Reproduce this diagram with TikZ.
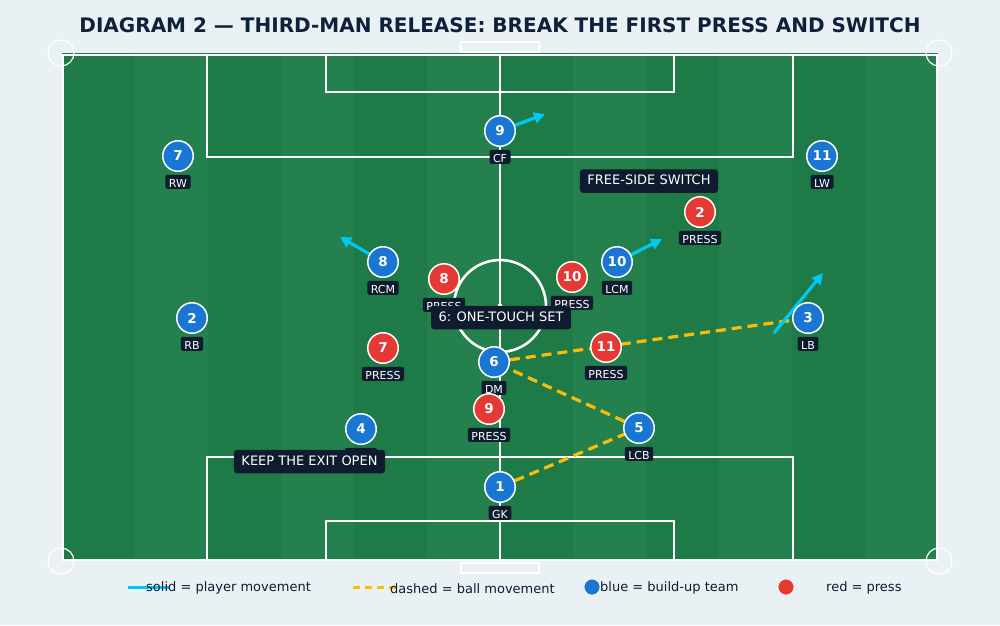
\documentclass[tikz,border=0pt]{standalone}
\usepackage{fontspec}
\setmainfont{DejaVu Sans}
\usetikzlibrary{arrows.meta}
\definecolor{bg}{RGB}{234,241,245}
\definecolor{navy}{RGB}{15,28,48}
\definecolor{titlec}{RGB}{15,32,58}
\definecolor{pblue}{RGB}{25,118,210}
\definecolor{pred}{RGB}{229,57,53}
\definecolor{cyanmv}{RGB}{0,200,240}
\definecolor{ballc}{RGB}{250,188,10}
\definecolor{gdark}{RGB}{30,122,70}
\definecolor{glight}{RGB}{36,128,76}
\tikzset{
  pline/.style={draw=white, line width=2.6pt},
  player/.style={circle, draw=white, line width=1.5pt, minimum size=30.5pt, inner sep=0pt,
    text=white, font=\fontsize{13.5}{14}\selectfont\bfseries},
  bluep/.style={player, fill=pblue},
  redp/.style={player, fill=pred},
  lbl/.style={fill=navy, rounded corners=2pt, text=white, font=\fontsize{11}{12}\selectfont,
    inner xsep=3.5pt, inner ysep=1.25pt, text height=11.5pt, text depth=0pt, anchor=south},
  callout/.style={fill=navy, rounded corners=3pt, text=white, font=\fontsize{13}{14}\selectfont,
    inner xsep=7.5pt, inner ysep=0pt, text height=9.5pt, text depth=2.5pt, minimum height=23.5pt},
  mv/.style={draw=cyanmv, line width=3.2pt, -{Triangle[length=11pt,width=11pt]}},
  ball/.style={draw=ballc, line width=3.2pt, dash pattern=on 10pt off 6pt},
  legtxt/.style={anchor=west, inner sep=0pt, text=navy, font=\fontsize{13}{14}\selectfont},
}
\begin{document}
\begin{tikzpicture}[x=1pt,y=-1pt]
\useasboundingbox (0,0) rectangle (1000,625);
\fill[bg] (0,0) rectangle (1000,625);
% title
\node[text=titlec, font=\fontsize{20}{24}\selectfont\bfseries] (title) at (500,25.5)
  {DIAGRAM 2 — THIRD-MAN RELEASE: BREAK THE FIRST PRESS AND SWITCH};
% pitch
\fill[glight] (62,53) rectangle (938,561);
\foreach \i in {0,2,...,10} \fill[gdark] ({62+\i*73},53) rectangle ({62+(\i+1)*73},561);
\draw[pline] (63,55) rectangle (937,560);
\draw[pline] (207,55) rectangle (793,157);
\draw[pline] (326,55) rectangle (674,92);
\draw[pline] (207,457) rectangle (793,560);
\draw[pline] (326,521) rectangle (674,560);
\draw[pline] (500,55) -- (500,560);
\draw[pline] (500,306) circle[radius=46pt];
\fill[white] (500,306) circle[radius=2.5pt];
\draw[white, line width=2pt, fill=bg] (461,42) rectangle (539,52);
\draw[white, line width=2pt, fill=bg] (461,563) rectangle (539,573);
\foreach \cx/\cy in {61/53, 939/53, 61/561, 939/561}
  \draw[white, line width=1.2pt] (\cx,\cy) circle[radius=13pt];
% player positions
\coordinate (cf) at (500,131);
\coordinate (rw) at (178,156);
\coordinate (lw) at (822,156);
\coordinate (rcm) at (383,262);
\coordinate (lcm) at (617,262);
\coordinate (rb) at (192,318);
\coordinate (lb) at (808,318);
\coordinate (dm) at (494,362);
\coordinate (rcb) at (361,429);
\coordinate (lcb) at (639,428);
\coordinate (gk) at (500,487);
\coordinate (r8) at (444,279);
\coordinate (r10) at (572,277);
\coordinate (r2) at (700,212);
\coordinate (r7) at (383,348);
\coordinate (r11) at (606,347);
\coordinate (r9) at (489,409);
% movement targets
\coordinate (cft) at (545,114);
\coordinate (rcmt) at (340,237);
\coordinate (lcmt) at (662,239);
\coordinate (lbs) at (774,333);
\coordinate (lbt) at (823,273);
% ball movement
\draw[ball] (gk) -- (lcb);
\draw[ball] (lcb) -- (dm);
\draw[ball] (dm) -- (lb);
% player movement
\draw[mv] (cf) -- (cft);
\draw[mv] (rcm) -- (rcmt);
\draw[mv] (lcm) -- (lcmt);
\draw[mv] (lbs) -- (lbt);
% blue team
\foreach \p/\n/\l in {cf/9/CF, rw/7/RW, lw/11/LW, rcm/8/RCM, lcm/10/LCM, rb/2/RB, lb/3/LB, dm/6/DM, lcb/5/LCB, gk/1/GK} {
  \node[bluep] (\p-c) at (\p) {\n};
  \node[lbl] (\p-l) at ([yshift=-33pt]\p) {\l};
}
\node[bluep] (rcb-c) at (rcb) {4};
\node[lbl, minimum width=32pt] (rcb-l) at ([yshift=-33pt]rcb) {};
% red press
\foreach \p/\n in {r8/8, r10/10, r2/2, r7/7, r11/11, r9/9} {
  \node[redp] (\p-c) at (\p) {\n};
  \node[lbl] (\p-l) at ([yshift=-33pt]\p) {PRESS};
}
% callouts
\node[callout] (free) at (649,181) {FREE-SIDE SWITCH};
\node[callout] (set) at (501,317.5) {6: ONE-TOUCH SET};
\node[callout] (exit) at (309.5,461.5) {KEEP THE EXIT OPEN};
% legend
\coordinate (l1a) at (128,587); \coordinate (l1b) at (169,587);
\draw[draw=cyanmv, line width=3pt] (l1a) -- (l1b);
\node[legtxt] (l1t) at (146,588) {solid = player movement};
\coordinate (l2a) at (353,587); \coordinate (l2b) at (400,587);
\draw[draw=ballc, line width=3pt, dash pattern=on 7pt off 5pt] (l2a) -- (l2b);
\node[legtxt] (l2t) at (390,589) {dashed = ball movement};
\node[circle, fill=pblue, draw=white, line width=0.6pt, minimum size=16pt, inner sep=0pt] (l3d) at (592,587) {};
\node[legtxt] (l3t) at (600,588) {blue = build-up team};
\node[circle, fill=pred, draw=white, line width=0.6pt, minimum size=16pt, inner sep=0pt] (l4d) at (786,587) {};
\node[legtxt] (l4t) at (826,588) {red = press};
\end{tikzpicture}
\end{document}
